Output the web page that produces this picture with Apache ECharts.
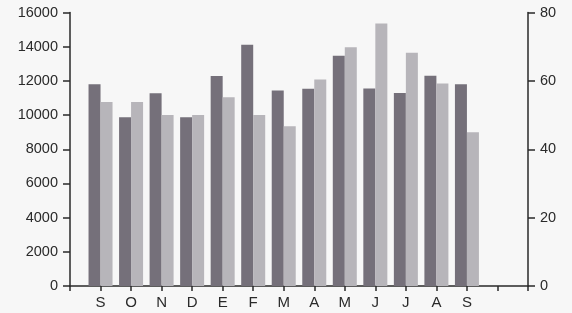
<!DOCTYPE html>
<html><head><meta charset="utf-8">
<script src="https://cdn.jsdelivr.net/npm/echarts@6/dist/echarts.min.js"></script>
<style>html,body{margin:0;padding:0;background:#f7f7f7}#c{width:572px;height:313px}</style>
</head><body><div id="c"></div>
<script>
const months = ['', 'S','O','N','D','E','F','M','A','M','J','J','A','S','',''];
const darkSeries = [null, 11800, 9870, 11270, 9870, 12280, 14110, 11430, 11540, 13470, 11560, 11290, 12300, 11800, null, null];
const lightSeries = [null, 53.8, 53.8, 50, 50, 55.2, 50, 46.7, 60.4, 69.8, 76.8, 68.2, 59.2, 45, null, null];
const leftTicks = [0, 16000, 2000];
const rightTicks = [0, 80, 20];

const chart = echarts.init(document.getElementById('c'));
const lbl = {color:'#2a2a2a', fontFamily:'Liberation Sans', fontSize:14.5, formatter:v => String(v)};
const axisCommon = {
  axisLine:{show:true, lineStyle:{color:'#2a2a2a', width:1.5}},
  axisTick:{show:true, length:7, lineStyle:{color:'#2a2a2a', width:1.5}},
  splitLine:{show:false}
};
chart.setOption({
  backgroundColor:'#f7f7f7',
  animation:false,
  grid:{left:70, right:44, top:12.5, bottom:27},
  xAxis:{type:'category', data:months, boundaryGap:false,
    axisLine:{lineStyle:{color:'#2a2a2a', width:1.5}},
    axisTick:{length:5, lineStyle:{color:'#2a2a2a', width:1.5}, interval:0},
    axisLabel:{color:'#2a2a2a', fontFamily:'Liberation Sans', fontSize:15, interval:0, margin:9}},
  yAxis:[
    Object.assign({type:'value', position:'left', min:leftTicks[0], max:leftTicks[1], interval:leftTicks[2]}, axisCommon, {axisLabel:Object.assign({}, lbl, {margin:12})}),
    Object.assign({type:'value', position:'right', min:rightTicks[0], max:rightTicks[1], interval:rightTicks[2]}, axisCommon, {axisLabel:Object.assign({}, lbl, {margin:12})})
  ],
  series:[
    {type:'bar', yAxisIndex:0, data:darkSeries, barWidth:12, barGap:'0%', itemStyle:{color:'#75707a'}},
    {type:'bar', yAxisIndex:1, data:lightSeries, barWidth:12, barGap:'0%', itemStyle:{color:'#b7b5ba'}}
  ]
});
</script></body></html>
